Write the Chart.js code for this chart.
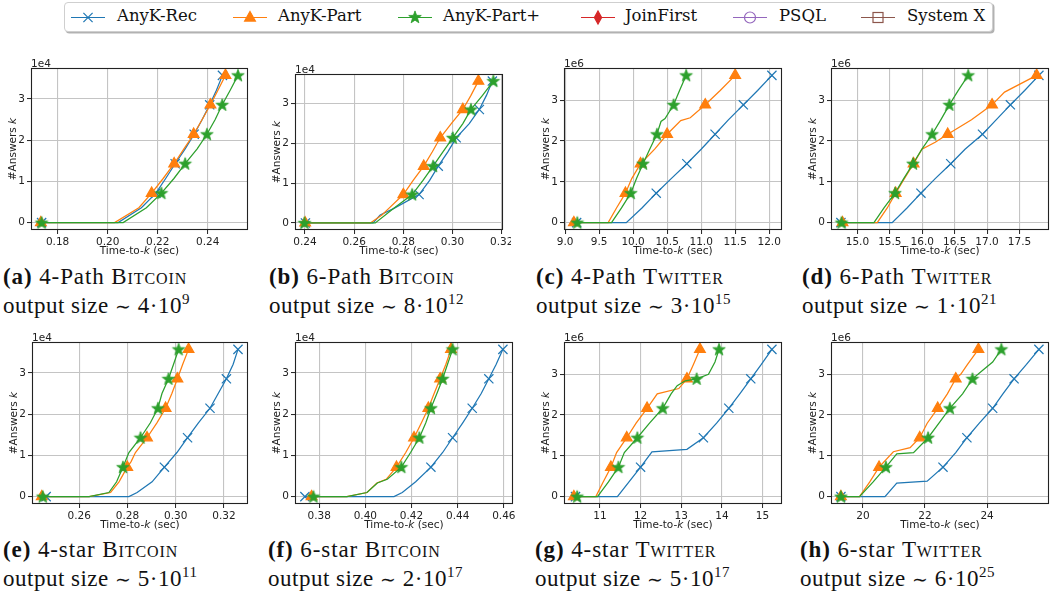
<!DOCTYPE html>
<html>
<head>
<meta charset="utf-8">
<script src="https://cdn.jsdelivr.net/npm/chart.js@4.4.0/dist/chart.umd.min.js"></script>
<style>
  body { margin: 0; background: #fff; width: 1054px; height: 596px; overflow: hidden; position: relative; }
  canvas.panel { position: absolute; }
  .legend { position: absolute; left: 64px; top: 2px; width: 927px; height: 28px; border: 1px solid #cfcfcf;
            border-radius: 4px; box-shadow: 1.5px 1.5px 0 rgba(0,0,0,0.3); background: #fff; }
  .legend canvas { position: absolute; top: 4px; }
  .legend span { position: absolute; top: 3px; font-family: "DejaVu Serif", serif; font-size: 16.5px; color: #111; white-space: nowrap; }
  .cap { position: absolute; font-family: "Liberation Serif", serif; font-size: 23px; line-height: 28.5px; color: #111; white-space: nowrap; }
  .cap .l1 { letter-spacing: 0.9px; }
  .cap .l2 { letter-spacing: 0.5px; }
  .cap b { font-weight: bold; }
  .sc { font-variant: small-caps; }
  .sim { font-size: 19px; }
  .sup { font-size: 15px; position: relative; top: -9px; }
</style>
</head>
<body>
<div class="legend" id="legend"></div>
<script>
// marker levels (k in units of the offset shown above each plot)
const btcMarks = [0.714, 1.428, 2.142, 2.856, 3.57];
const twMarks = [0.722, 1.444, 2.166, 2.888, 3.61];

// (a) 4-Path Bitcoin  [time, k]
const aRec  = [[0.1736,0],[0.2042,0],[0.2135,0.36],[0.2193,0.714],[0.2232,1.07],[0.2270,1.428],[0.2310,1.79],[0.2346,2.142],[0.2378,2.5],[0.2408,2.856],[0.2435,3.21],[0.2459,3.57]];
const aPart = [[0.1733,0],[0.2028,0],[0.2125,0.36],[0.2176,0.714],[0.2222,1.07],[0.2266,1.428],[0.2305,1.79],[0.2344,2.142],[0.2378,2.5],[0.2411,2.856],[0.2441,3.21],[0.2471,3.57]];
const aPlus = [[0.1736,0],[0.2062,0],[0.2155,0.36],[0.2215,0.714],[0.2265,1.07],[0.2310,1.428],[0.2358,1.79],[0.2397,2.142],[0.2430,2.5],[0.2458,2.856],[0.2490,3.21],[0.2521,3.57]];
const aTicks = ['0.18','0.20','0.22','0.24'];

// (b) 6-Path Bitcoin
const bRec  = [[0.2402,0],[0.2677,0],[0.2706,0.2],[0.2760,0.36],[0.2864,0.714],[0.2907,1.07],[0.2942,1.428],[0.2981,1.79],[0.3015,2.142],[0.3068,2.5],[0.3109,2.856],[0.3138,3.21],[0.3162,3.57]];
const bPart = [[0.2401,0],[0.2666,0],[0.2713,0.2],[0.2740,0.36],[0.2800,0.714],[0.2840,1.07],[0.2883,1.428],[0.2918,1.79],[0.2950,2.142],[0.2995,2.5],[0.3042,2.856],[0.3075,3.21],[0.3105,3.57]];
const bPlus = [[0.2398,0],[0.2686,0],[0.2760,0.36],[0.2836,0.714],[0.2880,1.07],[0.2921,1.428],[0.2961,1.79],[0.3001,2.142],[0.3042,2.5],[0.3075,2.856],[0.3122,3.21],[0.3166,3.57]];
const bTicks = ['0.24','0.26','0.28','0.30','0.32'];

// (c) 4-Path Twitter
const cRec  = [[9.17,0],[9.90,0],[10.13,0.36],[10.34,0.722],[10.56,1.08],[10.79,1.444],[11.00,1.8],[11.205,2.166],[11.40,2.52],[11.62,2.888],[11.83,3.24],[12.04,3.61]];
const cPart = [[9.13,0],[9.634,0],[9.756,0.36],[9.888,0.722],[9.98,1.08],[10.11,1.444],[10.317,1.8],[10.50,2.166],[10.70,2.5],[10.84,2.57],[11.06,2.888],[11.28,3.24],[11.50,3.61]];
const cPlus = [[9.18,0],[9.683,0],[9.83,0.36],[9.966,0.722],[10.05,1.08],[10.146,1.444],[10.244,1.8],[10.35,2.166],[10.41,2.48],[10.47,2.55],[10.595,2.888],[10.683,3.24],[10.78,3.61]];
const cTicks = ['9.0','9.5','10.0','10.5','11.0','11.5','12.0'];

// (d) 6-Path Twitter
const dRec  = [[14.745,0],[15.536,0],[15.765,0.36],[15.98,0.722],[16.20,1.08],[16.44,1.444],[16.66,1.8],[16.93,2.166],[17.14,2.52],[17.36,2.888],[17.58,3.24],[17.80,3.61]];
const dPart = [[14.77,0],[15.306,0],[15.46,0.36],[15.59,0.722],[15.724,1.08],[15.867,1.444],[15.995,1.8],[16.20,1.97],[16.393,2.166],[16.76,2.52],[17.077,2.888],[17.27,3.2],[17.765,3.61]];
const dPlus = [[14.755,0],[15.255,0],[15.41,0.36],[15.58,0.722],[15.714,1.08],[15.857,1.444],[15.995,1.8],[16.153,2.166],[16.286,2.52],[16.418,2.888],[16.556,3.24],[16.709,3.61]];
const dTicks = ['15.0','15.5','16.0','16.5','17.0','17.5'];

// (e) 4-star Bitcoin
const eRec  = [[0.2463,0],[0.2806,0],[0.2840,0.1],[0.2902,0.36],[0.2953,0.714],[0.3005,1.07],[0.3049,1.428],[0.3094,1.79],[0.3142,2.142],[0.3176,2.5],[0.3210,2.856],[0.3238,3.21],[0.3258,3.57]];
const ePart = [[0.2445,0],[0.2641,0],[0.2730,0.1],[0.2765,0.36],[0.2799,0.714],[0.2815,0.85],[0.2833,1.07],[0.2881,1.428],[0.2922,1.79],[0.2958,2.142],[0.2984,2.5],[0.3007,2.856],[0.3029,3.21],[0.3053,3.57]];
const ePlus = [[0.2449,0],[0.2641,0],[0.2723,0.1],[0.2755,0.36],[0.2781,0.714],[0.2806,1.07],[0.2854,1.428],[0.2895,1.79],[0.2926,2.142],[0.2943,2.5],[0.2970,2.856],[0.2991,3.21],[0.3012,3.57]];
const eTicks = ['0.26','0.28','0.30','0.32'];

// (f) 6-star Bitcoin
const fRec  = [[0.3738,0],[0.4124,0],[0.4160,0.1],[0.4218,0.36],[0.4284,0.714],[0.4335,1.07],[0.4378,1.428],[0.4422,1.79],[0.4463,2.142],[0.4502,2.5],[0.4535,2.856],[0.4567,3.21],[0.4596,3.57]];
const fPart = [[0.3767,0],[0.3920,0],[0.4007,0.1],[0.4050,0.33],[0.4090,0.42],[0.4135,0.714],[0.4175,1.07],[0.4211,1.428],[0.4243,1.79],[0.4273,2.142],[0.4298,2.5],[0.4324,2.856],[0.4349,3.21],[0.4371,3.57]];
const fPlus = [[0.3775,0],[0.3920,0],[0.4007,0.1],[0.4052,0.33],[0.4095,0.42],[0.4156,0.714],[0.4196,1.07],[0.4234,1.428],[0.4262,1.79],[0.4284,2.142],[0.4310,2.5],[0.4335,2.856],[0.4356,3.21],[0.4378,3.57]];
const fTicks = ['0.38','0.40','0.42','0.44','0.46'];

// (g) 4-star Twitter
const gRec  = [[10.40,0],[11.43,0],[12.00,0.722],[12.28,1.1],[13.14,1.16],[13.545,1.444],[13.87,1.8],[14.17,2.166],[14.44,2.52],[14.71,2.888],[14.97,3.24],[15.23,3.61]];
const gPart = [[10.36,0],[10.90,0],[11.08,0.36],[11.27,0.722],[11.41,1.08],[11.66,1.444],[11.89,1.8],[12.16,2.166],[12.41,2.52],[12.94,2.65],[13.14,2.888],[13.30,3.24],[13.46,3.61]];
const gPlus = [[10.44,0],[10.94,0],[11.21,0.36],[11.455,0.722],[11.60,1.08],[11.92,1.444],[12.22,1.8],[12.545,2.166],[12.75,2.52],[12.90,2.72],[13.10,2.84],[13.38,2.888],[13.67,3.0],[13.83,3.3],[13.93,3.61]];
const gTicks = ['11','12','13','14','15'];

// (h) 6-star Twitter
const hRec  = [[19.29,0],[20.71,0],[21.09,0.33],[22.07,0.38],[22.58,0.722],[22.99,1.08],[23.35,1.444],[23.75,1.8],[24.18,2.166],[24.51,2.52],[24.87,2.888],[25.27,3.24],[25.67,3.61]];
const hPart = [[19.29,0],[19.89,0],[20.22,0.36],[20.52,0.722],[20.98,1.1],[21.52,1.2],[21.83,1.444],[22.07,1.8],[22.41,2.166],[22.72,2.52],[22.99,2.888],[23.15,3.0],[23.37,3.24],[23.72,3.61]];
const hPlus = [[19.29,0],[19.89,0],[20.33,0.36],[20.74,0.722],[21.09,1.05],[21.63,1.08],[22.10,1.444],[22.45,1.8],[22.80,2.166],[23.21,2.52],[23.53,2.888],[23.86,3.1],[24.18,3.3],[24.46,3.61]];
const hTicks = ['20','22','24'];

const yTicks = ['0','1','2','3'];

const legendNames = ['AnyK-Rec','AnyK-Part','AnyK-Part+','JoinFirst','PSQL','System X'];
const legendColors = ['#1f77b4','#ff7f0e','#2ca02c','#d62728','#9467bd','#8c564b'];
const legendMarkers = ['cross','triangle','star','diamond','circle','square'];

const captions = [
  ['(a)','4-Path ','Bitcoin','4','9'],
  ['(b)','6-Path ','Bitcoin','8','12'],
  ['(c)','4-Path ','Twitter','3','15'],
  ['(d)','6-Path ','Twitter','1','21'],
  ['(e)','4-star ','Bitcoin','5','11'],
  ['(f)','6-star ','Bitcoin','2','17'],
  ['(g)','4-star ','Twitter','5','17'],
  ['(h)','6-star ','Twitter','6','25']
];

const REC = legendColors[0], PART = legendColors[1], PLUS = legendColors[2];
const GRID = '#c4c4c4';
const INK = '#222';
const FONT = '10.5px "DejaVu Sans"';

function starPath(ctx, x, y, ro, ri) {
  ctx.beginPath();
  for (let i = 0; i < 10; i++) {
    const r = i % 2 ? ri : ro;
    const a = -Math.PI / 2 + i * Math.PI / 5;
    ctx.lineTo(x + r * Math.cos(a), y + r * Math.sin(a));
  }
  ctx.closePath();
}

function drawMarker(ctx, kind, x, y, color) {
  ctx.save();
  ctx.strokeStyle = color; ctx.fillStyle = color; ctx.lineWidth = 1.2;
  if (kind === 'cross') {
    ctx.beginPath();
    ctx.moveTo(x - 4.6, y - 4.6); ctx.lineTo(x + 4.6, y + 4.6);
    ctx.moveTo(x - 4.6, y + 4.6); ctx.lineTo(x + 4.6, y - 4.6);
    ctx.stroke();
  } else if (kind === 'triangle') {
    ctx.beginPath();
    ctx.moveTo(x, y - 6); ctx.lineTo(x + 5.4, y + 3.6); ctx.lineTo(x - 5.4, y + 3.6);
    ctx.closePath(); ctx.fill(); ctx.stroke();
  } else if (kind === 'star') {
    starPath(ctx, x, y, 6.6, 2.7); ctx.fill(); ctx.lineWidth = 0.8; ctx.stroke();
  } else if (kind === 'diamond') {
    ctx.beginPath();
    ctx.moveTo(x, y - 6.5); ctx.lineTo(x + 3.6, y); ctx.lineTo(x, y + 6.5); ctx.lineTo(x - 3.6, y);
    ctx.closePath(); ctx.fill(); ctx.stroke();
  } else if (kind === 'circle') {
    ctx.beginPath(); ctx.arc(x, y, 5.5, 0, Math.PI * 2); ctx.stroke();
  } else if (kind === 'square') {
    ctx.strokeRect(x - 5, y - 5, 10, 10);
  }
  ctx.restore();
}

// star image used as a Chart.js pointStyle
function starImage(color) {
  const c = document.createElement('canvas');
  c.width = 16; c.height = 16;
  const ctx = c.getContext('2d');
  ctx.fillStyle = color; ctx.strokeStyle = color; ctx.lineWidth = 0.8;
  starPath(ctx, 8, 8.4, 6.6, 2.7); ctx.fill(); ctx.stroke();
  return c;
}
const STAR = starImage(PLUS);

function drawParts(ctx, parts, x, y, rot) {
  ctx.save();
  ctx.translate(x, y);
  ctx.rotate(rot);
  let total = 0;
  parts.forEach(p => { ctx.font = p[1] + FONT; total += ctx.measureText(p[0]).width; });
  let cx = -total / 2;
  ctx.textBaseline = 'middle';
  ctx.textAlign = 'left';
  parts.forEach(p => {
    ctx.font = p[1] + FONT;
    ctx.fillText(p[0], cx, 0);
    cx += ctx.measureText(p[0]).width;
  });
  ctx.restore();
}

const framePlugin = {
  id: 'frame',
  afterDraw(chart, args, opts) {
    const {ctx, chartArea: a} = chart;
    ctx.save();
    ctx.strokeStyle = INK;
    ctx.lineWidth = 1.1;
    ctx.strokeRect(Math.round(a.left) + 0.5, Math.round(a.top) + 0.5, Math.round(a.right - a.left) - 1, Math.round(a.bottom - a.top) - 1);
    ctx.fillStyle = INK;
    ctx.font = FONT;
    ctx.textAlign = 'left';
    ctx.textBaseline = 'alphabetic';
    ctx.fillText(opts.offset, a.left, a.top - 1.5);
    drawParts(ctx, [['Time-to-',''],['k','italic '],[' (sec)','']], (a.left + a.right) / 2, a.bottom + 21, 0);
    drawParts(ctx, [['#Answers ',''],['k','italic ']], a.left - 18, (a.top + a.bottom) / 2, -Math.PI / 2);
    ctx.restore();
  }
};

function series(points, marks, color, style, radius, order) {
  const isMark = i => i === 0 || marks.some(m => Math.abs(m - points[i][1]) < 1e-6);
  return {
    data: points.map(p => ({x: p[0], y: p[1]})),
    borderColor: color,
    backgroundColor: color,
    borderWidth: 1.25,
    tension: 0,
    pointStyle: style,
    pointBorderColor: color,
    pointBackgroundColor: color,
    pointBorderWidth: 1.2,
    pointRadius: ctx => isMark(ctx.dataIndex) ? radius : 0,
    pointHoverRadius: 0,
    order: order,
    clip: false
  };
}

const panels = [
  {rec: aRec, part: aPart, plus: aPlus, ticks: aTicks, marks: btcMarks, offset: '1e4', box: [31, 68, 248, 230]},
  {rec: bRec, part: bPart, plus: bPlus, ticks: bTicks, marks: btcMarks, offset: '1e4', box: [295, 74, 503, 230]},
  {rec: cRec, part: cPart, plus: cPlus, ticks: cTicks, marks: twMarks, offset: '1e6', box: [564, 68, 782, 230]},
  {rec: dRec, part: dPart, plus: dPlus, ticks: dTicks, marks: twMarks, offset: '1e6', box: [831, 68, 1049, 230]},
  {rec: eRec, part: ePart, plus: ePlus, ticks: eTicks, marks: btcMarks, offset: '1e4', box: [32, 342, 248, 504]},
  {rec: fRec, part: fPart, plus: fPlus, ticks: fTicks, marks: btcMarks, offset: '1e4', box: [295, 342, 513, 504]},
  {rec: gRec, part: gPart, plus: gPlus, ticks: gTicks, marks: twMarks, offset: '1e6', box: [564, 342, 782, 504]},
  {rec: hRec, part: hPart, plus: hPlus, ticks: hTicks, marks: twMarks, offset: '1e6', box: [831, 342, 1049, 504]}
];

Chart.defaults.font.family = '"DejaVu Sans", sans-serif';
Chart.defaults.font.size = 10.5;
Chart.defaults.color = INK;

const padL = 31, padT = 14, padR = 8, padB = 30;

panels.forEach(p => {
  const [L, T, R, B] = p.box;
  const cv = document.createElement('canvas');
  cv.className = 'panel';
  cv.width = R - L + padL + padR;
  cv.height = B - T + padT + padB;
  cv.style.left = (L - padL) + 'px';
  cv.style.top = (T - padT) + 'px';
  document.body.appendChild(cv);

  const xs = [...p.rec, ...p.part, ...p.plus].map(q => q[0]);
  const xMin = Math.min(...xs), xMax = Math.max(...xs), xr = xMax - xMin;
  const yMax = p.marks[p.marks.length - 1];

  new Chart(cv, {
    type: 'line',
    data: {
      datasets: [
        series(p.rec, p.marks, REC, 'crossRot', 6.5, 2),
        series(p.part, p.marks, PART, 'triangle', 6.2, 1),
        series(p.plus, p.marks, PLUS, STAR, 7, 0)
      ]
    },
    options: {
      animation: false,
      responsive: false,
      events: [],
      layout: {padding: {top: padT, right: padR, left: 0, bottom: 0}},
      plugins: {legend: {display: false}, tooltip: {enabled: false}, frame: {offset: p.offset}},
      scales: {
        x: {
          type: 'linear',
          min: xMin - 0.05 * xr,
          max: xMax + 0.05 * xr,
          afterBuildTicks: s => { s.ticks = p.ticks.map(t => ({value: parseFloat(t)})); },
          afterFit: s => { s.height = padB; s.paddingLeft = 0; s.paddingRight = 0; },
          ticks: {autoSkip: false, maxRotation: 0, minRotation: 0, padding: 2, callback: (v, i) => p.ticks[i]},
          grid: {color: GRID, lineWidth: 1.1, tickLength: 4, tickColor: INK, tickWidth: 1},
          border: {display: false}
        },
        y: {
          type: 'linear',
          min: -0.05 * yMax,
          max: 1.05 * yMax,
          afterBuildTicks: s => { s.ticks = yTicks.map(t => ({value: parseFloat(t)})); },
          afterFit: s => { s.width = padL; s.paddingTop = 0; s.paddingBottom = 0; },
          ticks: {autoSkip: false, padding: 2, callback: (v, i) => yTicks[i]},
          grid: {color: GRID, lineWidth: 1.1, tickLength: 4, tickColor: INK, tickWidth: 1},
          border: {display: false}
        }
      }
    },
    plugins: [framePlugin]
  });
});

// legend
const legend = document.getElementById('legend');
const legendLineX = [70, 232, 397, 580, 732, 860];
const legendTextX = [117, 278, 443, 625, 779, 907];
legendNames.forEach((name, i) => {
  const c = document.createElement('canvas');
  c.width = 36; c.height = 20;
  c.style.left = (legendLineX[i] - 65) + 'px';
  legend.appendChild(c);
  const ctx = c.getContext('2d');
  ctx.strokeStyle = legendColors[i];
  ctx.lineWidth = 1.2;
  ctx.beginPath(); ctx.moveTo(1, 10.5); ctx.lineTo(35, 10.5); ctx.stroke();
  drawMarker(ctx, legendMarkers[i], 18, 10.5, legendColors[i]);
  const s = document.createElement('span');
  s.textContent = name;
  s.style.left = (legendTextX[i] - 65) + 'px';
  legend.appendChild(s);
});

// captions
const capX = [3, 269, 536, 802, 3, 268, 535, 800];
const capTop = [263, 263, 263, 263, 536, 536, 536, 536];
captions.forEach((c, i) => {
  const d = document.createElement('div');
  d.className = 'cap';
  d.style.left = capX[i] + 'px';
  d.style.top = capTop[i] + 'px';
  d.innerHTML = '<div class="l1"><b>' + c[0] + '</b> ' + c[1] + '<span class="sc">' + c[2] + '</span></div>' +
    '<div class="l2">output size <span class="sim">\u223C</span> ' + c[3] + '\u00B710<span class="sup">' + c[4] + '</span></div>';
  document.body.appendChild(d);
});
</script>
</body>
</html>
